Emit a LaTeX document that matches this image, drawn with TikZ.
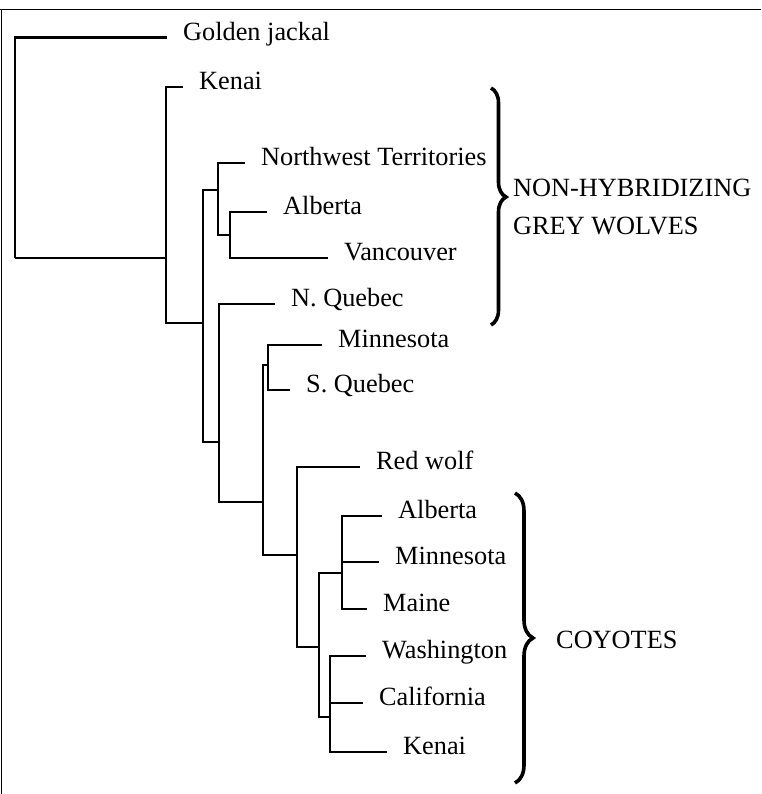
\documentclass[tikz,border=0pt]{standalone}
\usepackage{fontspec}
\setmainfont{Liberation Serif}
\usetikzlibrary{decorations.pathreplacing}

\tikzset{
  branch/.style={line width=2.6pt},
  leaf/.style={anchor=west, inner xsep=16pt, inner ysep=0pt,
               text height=0.75em, text depth=0.2em},
  grp/.style={decorate, line width=3.6pt,
              decoration={brace, amplitude=#1}},
  grplabel/.style={anchor=west, inner sep=0pt, align=left},
}

\begin{document}
\begin{tikzpicture}[x=1pt, y=-1pt, font=\fontsize{26.3pt}{38pt}\selectfont]

  \useasboundingbox (0,0) rectangle (761,794);

  % frame (top and left only)
  \draw[line width=1.2pt] (0,   9.5) -- (761, 9.5);
  \draw[line width=1.2pt] (1.5, 9.5) -- (1.5, 794);

  % internal nodes: (x of vertical, y where parent joins)
  \coordinate (root) at (15,  258);
  \coordinate (n1)   at (166, 258);
  \coordinate (n2)   at (203, 323);
  \coordinate (n3)   at (218, 190);
  \coordinate (n4)   at (230, 235);
  \coordinate (n5)   at (219, 442);
  \coordinate (n6)   at (263, 502);
  \coordinate (n7)   at (268, 365);
  \coordinate (n8)   at (297, 555);
  \coordinate (n9)   at (319, 647);
  \coordinate (n10)  at (342, 573);
  \coordinate (n11)  at (330, 717);

  % leaves (placed at the end of their branch)
  \node[leaf] (jackal) at (167, 37.7) {Golden jackal};
  \node[leaf] (kenW)   at (183, 87)   {Kenai};
  \node[leaf] (nwt)    at (245, 163)  {Northwest Territories};
  \node[leaf] (albW)   at (267, 212)  {Alberta};
  \node[leaf] (vanc)   at (328, 258)  {Vancouver};
  \node[leaf] (nque)   at (275, 304)  {N. Quebec};
  \node[leaf] (minW)   at (322, 345)  {Minnesota};
  \node[leaf] (sque)   at (290, 390)  {S. Quebec};
  \node[leaf] (red)    at (360, 467)  {Red wolf};
  \node[leaf] (albC)   at (382, 516)  {Alberta};
  \node[leaf] (minC)   at (379, 562)  {Minnesota};
  \node[leaf] (maine)  at (367, 609)  {Maine};
  \node[leaf] (wash)   at (366, 656)  {Washington};
  \node[leaf] (calif)  at (363, 703)  {California};
  \node[leaf] (kenC)   at (387, 752)  {Kenai};

  % branches
  \draw[branch] (root) |- (jackal.west);
  \draw[branch] (root) |- (n1);
  \draw[branch] (n1)   |- (kenW.west);
  \draw[branch] (n1)   |- (n2);
  \draw[branch] (n2)   |- (n3);
  \draw[branch] (n2)   |- (n5);
  \draw[branch] (n3)   |- (nwt.west);
  \draw[branch] (n3)   |- (n4);
  \draw[branch] (n4)   |- (albW.west);
  \draw[branch] (n4)   |- (vanc.west);
  \draw[branch] (n5)   |- (nque.west);
  \draw[branch] (n5)   |- (n6);
  \draw[branch] (n6)   |- (n7);
  \draw[branch] (n6)   |- (n8);
  \draw[branch] (n7)   |- (minW.west);
  \draw[branch] (n7)   |- (sque.west);
  \draw[branch] (n8)   |- (red.west);
  \draw[branch] (n8)   |- (n9);
  \draw[branch] (n9)   |- (n10);
  \draw[branch] (n9)   |- (n11);
  \draw[branch] (n10)  |- (albC.west);
  \draw[branch] (n10)  |- (minC.west);
  \draw[branch] (n10)  |- (maine.west);
  \draw[branch] (n11)  |- (wash.west);
  \draw[branch] (n11)  |- (calif.west);
  \draw[branch] (n11)  |- (kenC.west);

  % group braces
  \draw[grp=15pt, decoration={aspect=0.46}] (491, 88) -- (491, 325);
  \node[grplabel] (grey) at (513, 207) {NON-HYBRIDIZING\\GREY WOLVES};

  \draw[grp=18pt] (515, 493) -- (515, 783);
  \node[grplabel] (coy) at (556, 640) {COYOTES};

\end{tikzpicture}
\end{document}
